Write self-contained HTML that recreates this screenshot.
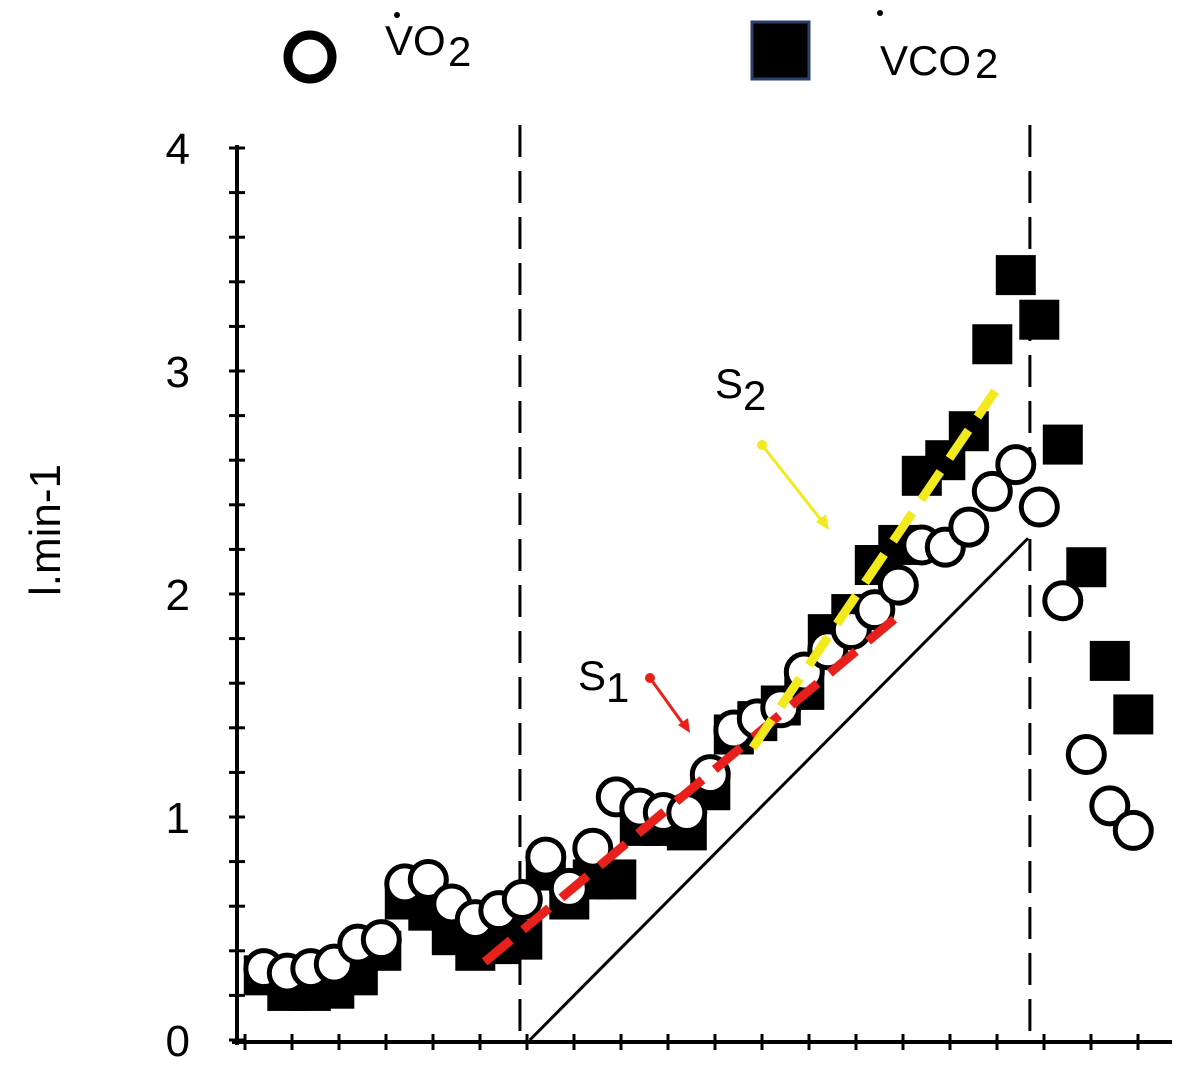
<!DOCTYPE html>
<html><head><meta charset="utf-8"><style>
body{margin:0;background:#fff;width:1181px;height:1067px;overflow:hidden}
svg{display:block}
text{font-family:"Liberation Sans",sans-serif;fill:#000}
</style></head><body>
<svg id="c" width="1181" height="1067"></svg>
<script>
const times=[];for(let i=0;i<38;i++)times.push(0.4+0.5*i);
const vo2=[0.32,0.30,0.32,0.34,0.43,0.45,0.70,0.72,0.61,0.54,0.58,0.63,0.82,0.68,0.86,1.09,1.04,1.02,1.02,1.19,1.39,1.44,1.49,1.65,1.75,1.84,1.93,2.04,2.22,2.21,2.30,2.46,2.58,2.39,1.97,1.28,1.05,0.94];
const vco2=[0.29,0.22,0.22,0.23,0.29,0.40,0.63,0.58,0.47,0.40,0.43,0.45,0.76,0.63,0.72,0.72,0.96,0.96,0.94,1.12,1.37,1.43,1.50,1.57,1.82,1.91,2.13,2.22,2.53,2.60,2.73,3.12,3.43,3.23,2.67,2.12,1.70,1.46];
const yTicks=[0,1,2,3,4];
const thresholds=[5.85,16.7];
const s1=[[5.1,0.35],[14.0,1.92]];
const s2=[[10.8,1.31],[15.96,2.91]];
const ref=[[6.06,0],[16.66,2.25]];
const X=t=>245+47*t, Y=v=>1040-223*v;
const svg=document.getElementById('c');const NS='http://www.w3.org/2000/svg';
function mk(tag,at,txt){const e=document.createElementNS(NS,tag);for(const k in at)e.setAttribute(k,at[k]);if(txt!==undefined)e.textContent=txt;svg.appendChild(e);return e;}
let e=mk('line',{x1:237,y1:145,x2:237,y2:1045,stroke:'#000','stroke-width':4});


e=mk('line',{x1:232,y1:1042,x2:1172,y2:1042,stroke:'#000','stroke-width':4});


for(let v=0;v<=4.01;v+=0.2){e=mk('line',{x1:229,y1:Y(v),x2:245,y2:Y(v),stroke:'#000','stroke-width':3});

}
for(let t=0;X(t)<1175;t++){e=mk('line',{x1:X(t),y1:1034,x2:X(t),y2:1050,stroke:'#000','stroke-width':3});

}
yTicks.forEach(v=>{e=mk('text',{x:190,y:Y(v)+16,'font-size':44,'text-anchor':'end'},String(v));

});
e=mk('text',{x:60,y:530,'font-size':44,'text-anchor':'middle',transform:'rotate(-90 60 530)'},'l.min-1');


thresholds.forEach(t=>{e=mk('line',{x1:X(t),y1:125,x2:X(t),y2:1040,stroke:'#000','stroke-width':3,'stroke-dasharray':'32 14'});

});
e=mk('line',{x1:X(ref[0][0]),y1:Y(ref[0][1]),x2:X(ref[1][0]),y2:Y(ref[1][1]),stroke:'#000','stroke-width':3});


times.forEach((t,i)=>{e=mk('rect',{x:X(t)-20,y:Y(vco2[i])-20,width:40,height:40,fill:'#000'});

});
times.forEach((t,i)=>{e=mk('circle',{cx:X(t),cy:Y(vo2[i]),r:18,fill:'#fff',stroke:'#000','stroke-width':5});

});
e=mk('line',{x1:X(s1[0][0]),y1:Y(s1[0][1]),x2:X(s1[1][0]),y2:Y(s1[1][1]),stroke:'#e8201c','stroke-width':9,'stroke-dasharray':'34 16'});


e=mk('line',{x1:X(s2[0][0]),y1:Y(s2[0][1]),x2:X(s2[1][0]),y2:Y(s2[1][1]),stroke:'#f2ea1c','stroke-width':9,'stroke-dasharray':'34 16'});


e=mk('text',{x:578,y:690,'font-size':42},'S');
mk('text',{x:606,y:702,'font-size':42},'1');
e=mk('line',{x1:650,y1:678,x2:686,y2:728,stroke:'#e8201c','stroke-width':3});
mk('circle',{cx:650,cy:678,r:5,fill:'#e8201c'});
mk('polygon',{points:'690,733 678,725 688,718',fill:'#e8201c'});
e=mk('text',{x:715,y:398,'font-size':42},'S');
mk('text',{x:743,y:410,'font-size':42},'2');
e=mk('line',{x1:762,y1:445,x2:825,y2:525,stroke:'#f2ea1c','stroke-width':3});
mk('circle',{cx:762,cy:445,r:5,fill:'#f2ea1c'});
mk('polygon',{points:'829,530 816,522 826,514',fill:'#f2ea1c'});
e=mk('circle',{cx:310,cy:57,r:22,fill:'#fff',stroke:'#000','stroke-width':9});
e=mk('text',{x:385,y:55,'font-size':42},'VO');
mk('text',{x:448,y:66,'font-size':42},'2');mk('circle',{cx:397,cy:15,r:3,fill:'#000'});
e=mk('rect',{x:752,y:22,width:57,height:57,fill:'#000',stroke:'#2b3f6b','stroke-width':3});
e=mk('text',{x:880,y:75,'font-size':42},'VCO');
mk('text',{x:975,y:78,'font-size':42},'2');mk('circle',{cx:880,cy:13,r:3,fill:'#000'});
</script>
</body></html>
